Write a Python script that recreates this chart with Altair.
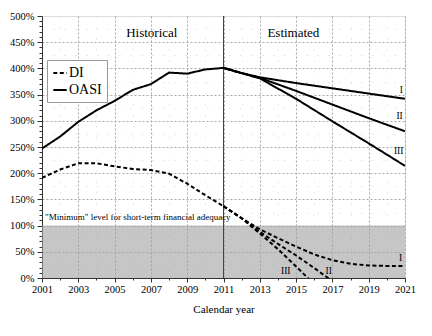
import altair as alt
import pandas as pd

FONT = "Liberation Serif"

# ---- data ----
hist_years = list(range(2001, 2012))
oasi_hist = [247, 270, 298, 320, 338, 359, 370, 392, 390, 398, 401]
di_hist = [191, 207, 219, 219, 213, 208, 206, 199, 180, 158, 137]

oasi_est_years = [2011, 2012, 2013, 2015, 2017, 2019, 2021]
oasi_I = [401, 391, 383, 372, 362, 352, 342]
oasi_II = [401, 391, 382, 357, 331, 305, 280]
oasi_III = [401, 391, 381, 342, 299, 257, 214]

di_I_years = list(range(2011, 2022))
di_I = [137, 114, 93, 76, 60, 45, 34, 27, 24, 23, 23]
di_II_years = list(range(2011, 2018))
di_II = [137, 114, 88, 65, 43, 19, -6]
di_III_years = list(range(2011, 2017))
di_III = [137, 114, 85, 55, 22, -12]

funds = ["DI", "OASI"]

rows = []
def add(fund, series, years, vals):
    for y, v in zip(years, vals):
        rows.append({"fund": fund, "series": fund + "-" + series, "year": y, "value": v})

add("OASI", "hist", hist_years, oasi_hist)
add("OASI", "I", oasi_est_years, oasi_I)
add("OASI", "II", oasi_est_years, oasi_II)
add("OASI", "III", oasi_est_years, oasi_III)
add("DI", "hist", hist_years, di_hist)
add("DI", "I", di_I_years, di_I)
add("DI", "II", di_II_years, di_II)
add("DI", "III", di_III_years, di_III)
lines_df = pd.DataFrame(rows)

# annotations (data coordinates)
period_labels = ["Historical", "Estimated"]
period_years = [2007.05, 2014.85]
period_vals = [467, 467]

alt_labels = ["I", "II", "III", "I", "II", "III"]
alt_years = [2020.8, 2020.7, 2020.65, 2020.76, 2016.8, 2014.43]
alt_vals = [359, 310, 242, 39, 13, 14]

min_label = ['"Minimum" level for short-term financial adequacy']
min_year = [2001.17]
min_val = [116]

band_df = pd.DataFrame({"year": [2001], "year2": [2021], "value": [0], "value2": [100]})
split_df = pd.DataFrame({"year": [2011]})
period_df = pd.DataFrame({"year": period_years, "value": period_vals, "label": period_labels})
alt_df = pd.DataFrame({"year": alt_years, "value": alt_vals, "label": alt_labels})
min_df = pd.DataFrame({"year": min_year, "value": min_val, "label": min_label})

x_axis = alt.Axis(
    values=list(range(2001, 2022)),
    labelExpr="datum.value % 2 == 1 ? format(datum.value, 'd') : ''",
    labelOverlap=False, labelFlush=False,
    labelFont=FONT, labelFontSize=10.5, labelColor="black", labelPadding=2,
    title="Calendar year", titleFont=FONT, titleFontSize=11, titleFontWeight="normal",
    titleColor="black", titlePadding=9,
    grid=True,
    gridColor={"condition": {"test": "datum.value % 2 == 1", "value": "#a8a8a8"}, "value": "#d4d4d4"},
    gridDash={"condition": {"test": "datum.value % 2 == 1", "value": [2, 2]}, "value": [1, 10]},
    tickSize={"condition": {"test": "datum.value % 2 == 1", "value": 4}, "value": 2},
    tickColor="#333", domainColor="#333",
)
y_axis = alt.Axis(
    values=list(range(0, 501, 5)),
    labelExpr="datum.value % 50 == 0 ? datum.value + '%' : ''",
    labelOverlap=False, labelFlush=False,
    labelFont=FONT, labelFontSize=10.5, labelColor="black", labelPadding=3,
    title=None,
    grid=True,
    gridOpacity={"condition": {"test": "datum.value % 25 == 0 && datum.value > 0 && datum.value < 500", "value": 1}, "value": 0},
    gridColor={"condition": {"test": "datum.value % 50 == 0", "value": "#a8a8a8"}, "value": "#d4d4d4"},
    gridDash={"condition": {"test": "datum.value % 50 == 0", "value": [2, 2]}, "value": [1, 10]},
    tickOpacity={"condition": {"test": "datum.value % 10 == 0", "value": 1}, "value": 0},
    tickSize={"condition": {"test": "datum.value % 50 == 0", "value": 5}, "value": 3},
    tickColor="#333", domainColor="#333",
)

def X():
    return alt.X("year:Q", scale=alt.Scale(domain=[2001, 2021], nice=False, zero=False), axis=x_axis)

def Y():
    return alt.Y("value:Q", scale=alt.Scale(domain=[0, 500], nice=False), axis=y_axis)

band = alt.Chart(band_df).mark_rect(fill="#a0a0a0", opacity=0.6).encode(
    x=X(), x2="year2:Q", y=Y(), y2="value2:Q"
)

split = alt.Chart(split_df).mark_rule(color="#444", strokeWidth=1).encode(x=X())

lines = alt.Chart(lines_df).mark_line(clip=True, strokeWidth=2, color="black").encode(
    x=X(), y=Y(),
    strokeDash=alt.StrokeDash(
        "fund:N", title=None,
        scale=alt.Scale(domain=funds, range=[[4, 2.5], [1, 0]]),
        legend=alt.Legend(
            orient="none", legendX=5, legendY=44, direction="vertical",
            fillColor="white", strokeColor="#999", padding=5,
            symbolType="stroke", symbolSize=180, symbolStrokeWidth=2,
            symbolStrokeColor="black",
            labelFont=FONT, labelFontSize=14, labelColor="black",
            labelOffset=1, rowPadding=2,
        ),
    ),
    detail="series:N",
    order="year:Q",
)

period_text = alt.Chart(period_df).mark_text(font=FONT, fontSize=13, color="black").encode(
    x=X(), y=Y(), text="label:N"
)
alt_text = alt.Chart(alt_df).mark_text(font=FONT, fontSize=9.5, color="black").encode(
    x=X(), y=Y(), text="label:N"
)
min_text = alt.Chart(min_df).mark_text(font=FONT, fontSize=9, color="black", align="left").encode(
    x=X(), y=Y(), text="label:N"
)

chart = alt.layer(band, split, lines, period_text, alt_text, min_text).properties(
    width=363, height=262,
    autosize=alt.AutoSizeParams(type="none"),
    padding={"left": 42, "top": 16, "right": 27, "bottom": 58},
    background="white",
).configure_view(stroke="#333", strokeWidth=1).configure(font=FONT)

chart.save("out.html", embed_options={"renderer": "svg", "actions": False})
